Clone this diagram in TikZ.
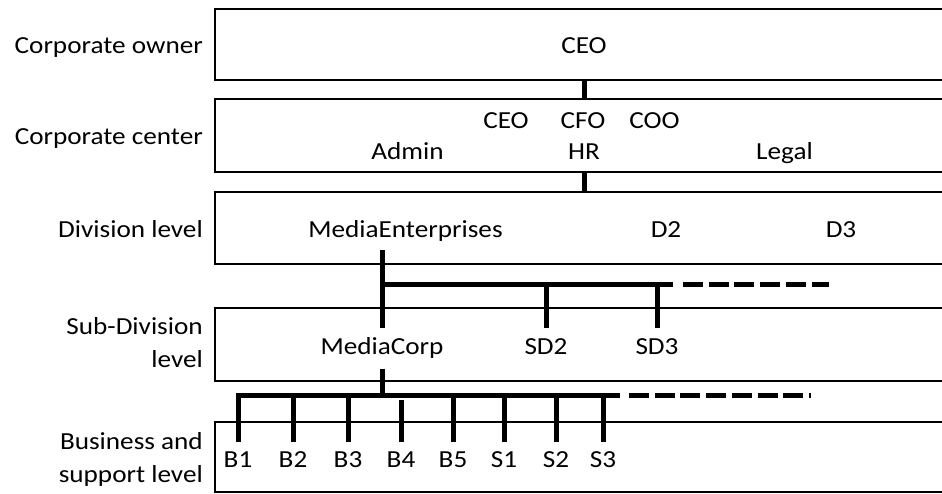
\documentclass[tikz,border=0pt]{standalone}
\usepackage{fontspec}
\setmainfont{Carlito}[FakeStretch=1.11]
\begin{document}
\begin{tikzpicture}[x=1pt,y=-1pt,
  tierbox/.style={draw, line width=2.6pt, rectangle, minimum width=760pt,
    anchor=north west, inner sep=0pt, outer sep=0pt},
  lbl/.style={font=\fontsize{24.5}{33}\selectfont, inner sep=0pt,
    text height=17pt, text depth=5pt, anchor=base},
  tier/.style={font=\fontsize{24.5}{33}\selectfont, inner sep=0pt,
    align=right, anchor=base east},
  link/.style={line width=5pt},
  dashline/.style={line width=5pt, dash pattern=on 20pt off 5.7pt},
  unit/.style={lbl, outer ysep=8pt},
  sub/.style={lbl, outer ysep=9.5pt},
  leaf/.style={lbl, outer ysep=8pt}]
\useasboundingbox (0,0) rectangle (942,493);
\fill[white] (0,0) rectangle (942,493);
\clip (0,0) rectangle (942,493);

% level bands (open to the right)
\node[tierbox, minimum height=71pt] (owner)    at (215,9)   {};
\node[tierbox, minimum height=73pt] (center)   at (215,99)  {};
\node[tierbox, minimum height=72pt] (division) at (215,192) {};
\node[tierbox, minimum height=73pt] (subdiv)   at (215,308) {};
\node[tierbox, minimum height=70pt] (business) at (215,422) {};

% level names (two-line names are anchored on their last line)
\node[tier] (t1) at (203,53)  {Corporate owner};
\node[tier] (t2) at (203,144) {Corporate center};
\node[tier] (t3) at (203,237) {Division level};
\node[tier] (t4) at (203,367) {Sub-Division\\level};
\node[tier] (t5) at (203,482) {Business and\\support level};

% corporate owner and center
\node[lbl] (ceo0)  at (584,53)    {CEO};
\node[lbl] (ceo)   at (506,128)   {CEO};
\node[lbl] (cfo)   at (583,128)   {CFO};
\node[lbl] (coo)   at (654.5,128) {COO};
\node[lbl] (admin) at (407.5,159.5) {Admin};
\node[lbl] (hr)    at (584,159.5) {HR};
\node[lbl] (legal) at (784.5,159.5) {Legal};

% divisions
\node[unit] (me) at (405.5,237) {MediaEnterprises};
\node[unit] (d2) at (666,237)   {D2};
\node[unit] (d3) at (841,237)   {D3};

% sub-divisions
\node[sub] (mc)  at (382,354) {MediaCorp};
\node[sub] (sd2) at (546,354) {SD2};
\node[sub] (sd3) at (657,354) {SD3};

% business and support units
\node[leaf] (b1) at (238,467) {B1};
\node[leaf] (b2) at (293,467) {B2};
\node[leaf] (b3) at (348,467) {B3};
\node[leaf] (b4) at (401,467) {B4};
\node[leaf] (b5) at (453,467) {B5};
\node[leaf] (s1) at (504,467) {S1};
\node[leaf] (s2) at (556,467) {S2};
\node[leaf] (s3) at (603,467) {S3};

% bus bars
\coordinate (bus1W) at (382,284);
\coordinate (bus1E) at (673,284);
\coordinate (bus1D) at (683,284);
\coordinate (bus1X) at (829,284);
\coordinate (bus2W) at (235.5,395);
\coordinate (bus2E) at (620,395);
\coordinate (bus2D) at (629,395);
\coordinate (bus2X) at (811,395);

% connectors
\draw[link] (owner.south -| ceo0) -- (center.north -| ceo0);
\draw[link] (center.south -| hr) -- (division.north -| hr);

\draw[link] (me.south -| mc) -- (mc.north);
\draw[link] (bus1W) -- (bus1E);
\draw[dashline] (bus1D) -- (bus1X);
\draw[link] (sd2.north) -- (sd2.north |- bus1W);
\draw[link] (sd3.north) -- (sd3.north |- bus1W);

\draw[link] (mc.south) -- (mc.south |- bus2W) -- ++(0,3);
\draw[link] (bus2W) -- (bus2E);
\draw[dashline] (bus2D) -- (bus2X);
\foreach \u in {b1,b2,b3,b5,s1,s2,s3}
  \draw[link] (\u.north) -- (\u.north |- bus2W);
\draw[link] (b4.north) -- ++(0,-42);
\end{tikzpicture}
\end{document}
